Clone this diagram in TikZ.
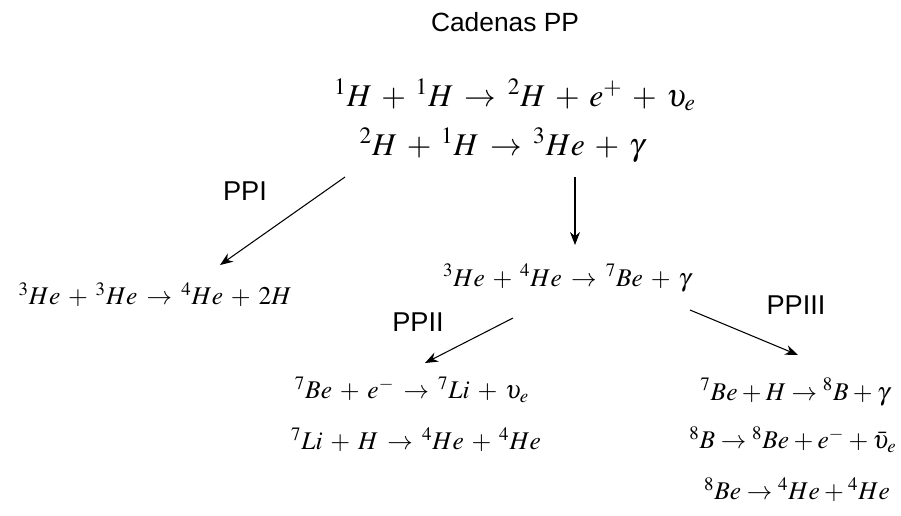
\documentclass[tikz,border=0pt]{standalone}
\usepackage{mathptmx}
\usepackage[no-math]{fontspec}
\setmainfont{Liberation Serif}
\setsansfont{Liberation Sans}
\usetikzlibrary{arrows.meta}
\medmuskip=5.5mu
\thickmuskip=6.5mu
\newcommand{\tightmath}{\medmuskip=3mu\relax\thickmuskip=4mu\relax}

\begin{document}
\begin{tikzpicture}[x=0.02cm,y=-0.02cm,>={Stealth[length=2.6mm,width=2mm]},
    eqbig/.style={inner sep=0pt,font=\fontsize{18}{21}\selectfont},
    eq/.style={inner sep=0pt,font=\fontsize{14.5}{17}\selectfont},
    lbl/.style={inner sep=0pt,font=\sffamily\fontsize{15.5}{18}\selectfont},
    conn/.style={->,line width=0.6pt}]
  \useasboundingbox (0,0) rectangle (901,515);
  % title and the two first steps
  \node[lbl,font=\sffamily\fontsize{15}{18}\selectfont] (title) at (505,22) {Cadenas PP};
  \node[eqbig] (pp1) at (515,95) {${}^1H+{}^1H\rightarrow{}^2H+e^+ +\upsilon_e$};
  \node[eqbig] (pp2) at (502,145) {${}^2H+{}^1H\rightarrow{}^3He+\gamma$};
  % branches
  \node[eq] (ppI) at (155,295) {${}^3He+{}^3He\rightarrow{}^4He+2H$};
  \node[eq] (be7) at (567,278) {${}^3He+{}^4He\rightarrow{}^7Be+\gamma$};
  \node[lbl] (lI) at (245,191) {PPI};
  \node[lbl] (lII) at (418,322) {PPII};
  \node[lbl] (lIII) at (796,305) {PPIII};
  % PPII
  \node[eq] (ii1) at (412,390) {${}^7Be+e^-\rightarrow{}^7Li+\upsilon_e$};
  \node[eq] (ii2) at (416,440) {${}^7Li+H\rightarrow{}^4He+{}^4He$};
  % PPIII
  \node[eq] (iii1) at (795,392) {$\tightmath{}^7Be+H\rightarrow{}^8B+\gamma$};
  \node[eq] (iii2) at (793,440) {$\tightmath{}^8B\rightarrow{}^8Be+e^-+\bar{\upsilon}_e$};
  \node[eq] (iii3) at (797,490) {$\tightmath{}^8Be\rightarrow{}^4He+{}^4He$};
  % arrows
  \coordinate (aI) at (345,177);
  \coordinate (bI) at (220,265);
  \coordinate (aD) at (575,177);
  \coordinate (bD) at (575,245);
  \coordinate (aII) at (513,318);
  \coordinate (bII) at (425,363);
  \coordinate (aIII) at (690,310);
  \coordinate (bIII) at (798,355);
  \draw[conn] (aI) -- (bI);
  \draw[conn] (aD) -- (bD);
  \draw[conn] (aII) -- (bII);
  \draw[conn] (aIII) -- (bIII);
\end{tikzpicture}
\end{document}
